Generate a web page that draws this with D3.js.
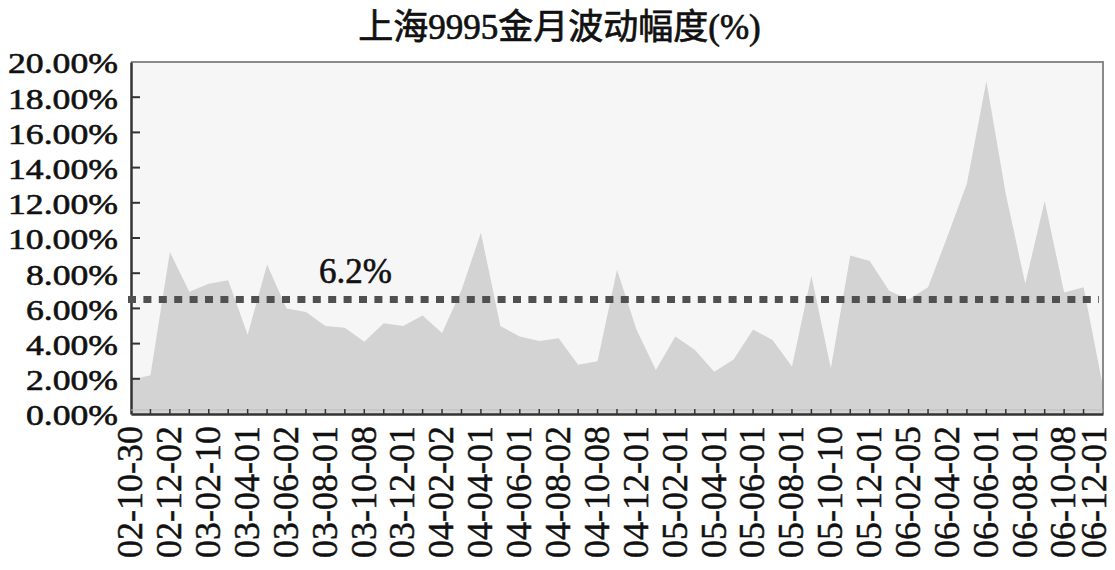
<!DOCTYPE html>
<html>
<head>
<meta charset="utf-8">
<script src="https://cdn.jsdelivr.net/npm/d3@7"></script>
<style>
  html, body { margin: 0; padding: 0; background: #ffffff; }
  svg { display: block; }
</style>
</head>
<body>
<svg id="chart" width="1115" height="570"></svg>
<script>
const title = "上海9995金月波动幅度(%)";

const months = [
  "02-10","02-11","02-12","03-01","03-02","03-03","03-04","03-05","03-06","03-07",
  "03-08","03-09","03-10","03-11","03-12","04-01","04-02","04-03","04-04","04-05",
  "04-06","04-07","04-08","04-09","04-10","04-11","04-12","05-01","05-02","05-03",
  "05-04","05-05","05-06","05-07","05-08","05-09","05-10","05-11","05-12","06-01",
  "06-02","06-03","06-04","06-05","06-06","06-07","06-08","06-09","06-10","06-11",
  "06-12"
];

const volatility = [
  1.95, 2.2, 9.2, 6.95, 7.4, 7.6, 4.5, 8.5, 6.0, 5.8,
  5.0, 4.9, 4.1, 5.15, 5.0, 5.6, 4.6, 7.05, 10.3, 5.0,
  4.4, 4.15, 4.3, 2.8, 3.0, 8.2, 4.8, 2.5, 4.4, 3.65,
  2.4, 3.1, 4.8, 4.2, 2.7, 7.85, 2.6, 9.0, 8.7, 7.0,
  6.5, 7.2, 10.1, 13.1, 18.9, 12.5, 7.4, 12.1, 6.9, 7.2,
  1.55
];

const tickLabels = [
  "02-10-30","02-12-02","03-02-10","03-04-01","03-06-02","03-08-01","03-10-08",
  "03-12-01","04-02-02","04-04-01","04-06-01","04-08-02","04-10-08","04-12-01",
  "05-02-01","05-04-01","05-06-01","05-08-01","05-10-10","05-12-01","06-02-05",
  "06-04-02","06-06-01","06-08-01","06-10-08","06-12-01"
];

const yTicks = [0, 2, 4, 6, 8, 10, 12, 14, 16, 18, 20];
const averageLine = 6.5;
const averageLabel = "6.2%";

const svg = d3.select("#chart");
const W = 1115, H = 570;
const m = { left: 131, right: 12, top: 62, bottom: 156 };
const x0 = m.left, x1 = W - m.right, y0 = m.top, y1 = H - m.bottom;

const x = d3.scalePoint().domain(months).range([x0, x1]);
const y = d3.scaleLinear().domain([0, 20]).range([y1, y0]);

const serif = "'Liberation Serif', 'Times New Roman', 'Noto Sans CJK SC', serif";
const ink = "#111";

function heavy(sel, w) {
  sel.attr("fill", ink).attr("stroke", ink).attr("stroke-width", w).attr("paint-order", "stroke");
}

// plot background
svg.append("rect")
  .attr("x", x0).attr("y", y0)
  .attr("width", x1 - x0).attr("height", y1 - y0)
  .attr("fill", "#f6f6f6");

// area
const area = d3.area()
  .x((d, i) => x(months[i]))
  .y0(y(0))
  .y1(d => y(d));
svg.append("path")
  .datum(volatility)
  .attr("d", area)
  .attr("fill", "#d3d3d3");

// frame top/right
svg.append("path")
  .attr("d", `M${x0},${y0}H${x1}V${y1}`)
  .attr("fill", "none").attr("stroke", "#8a8a8a").attr("stroke-width", 2);

// y axis
const yAxis = d3.axisLeft(y).tickValues(yTicks)
  .tickFormat(d => d.toFixed(2) + "%")
  .tickSize(0).tickPadding(13);
const gy = svg.append("g").attr("transform", `translate(${x0},0)`).call(yAxis);
gy.select(".domain").attr("stroke", "#333").attr("stroke-width", 2.5);
gy.selectAll("text")
  .attr("font-family", serif).attr("font-size", 30)
  .attr("textLength", d => d >= 10 ? 110 : 92)
  .attr("lengthAdjust", "spacingAndGlyphs")
  .attr("dy", "0.36em").call(heavy, 0.6);
// inward y ticks
svg.append("g").selectAll("line")
  .data(yTicks.filter(d => d > 0 && d < 20))
  .join("line")
  .attr("x1", x0).attr("x2", x0 + 9)
  .attr("y1", d => y(d)).attr("y2", d => y(d))
  .attr("stroke", "#333").attr("stroke-width", 2);

// x axis
svg.append("line")
  .attr("x1", x0).attr("x2", x1).attr("y1", y1 - 4).attr("y2", y1 - 4)
  .attr("stroke", "#bdbdbd").attr("stroke-width", 1);
const xAxis = d3.axisBottom(x)
  .tickValues(months.filter((d, i) => i % 2 === 0))
  .tickFormat((d, i) => tickLabels[i])
  .tickSize(0).tickPadding(0);
const gx = svg.append("g").attr("transform", `translate(0,${y1})`).call(xAxis);
gx.select(".domain").attr("stroke", "#333").attr("stroke-width", 2.5);
gx.selectAll("text")
  .attr("font-family", serif).attr("font-size", 36)
  .attr("text-anchor", "end")
  .attr("transform", "rotate(-90)")
  .attr("x", -12).attr("y", 0)
  .attr("dy", (d, i) => i === tickLabels.length - 1 ? "0.08em" : "0.3em")
  .call(heavy, 0.5);
// minor inward x ticks
svg.append("g").selectAll("line")
  .data(months.slice(1, -1))
  .join("line")
  .attr("x1", d => x(d)).attr("x2", d => x(d))
  .attr("y1", y1).attr("y2", y1 - 5)
  .attr("stroke", "#333").attr("stroke-width", 1.5);

// average line
svg.append("line")
  .attr("x1", x0 - 3).attr("x2", x1 - 4)
  .attr("y1", y(averageLine)).attr("y2", y(averageLine))
  .attr("stroke", "#505050").attr("stroke-width", 7)
  .attr("stroke-dasharray", "8,7.4");

svg.append("text")
  .attr("x", x(months[9]) + 13).attr("y", y(averageLine) - 17)
  .attr("font-family", serif).attr("font-size", 35)
  .call(heavy, 0.6)
  .text(averageLabel);

// title
svg.append("text")
  .attr("x", W / 2 + 2).attr("y", 39)
  .attr("text-anchor", "middle")
  .attr("font-family", serif).attr("font-size", 35)
  .call(heavy, 0.7)
  .text(title);
</script>
</body>
</html>
